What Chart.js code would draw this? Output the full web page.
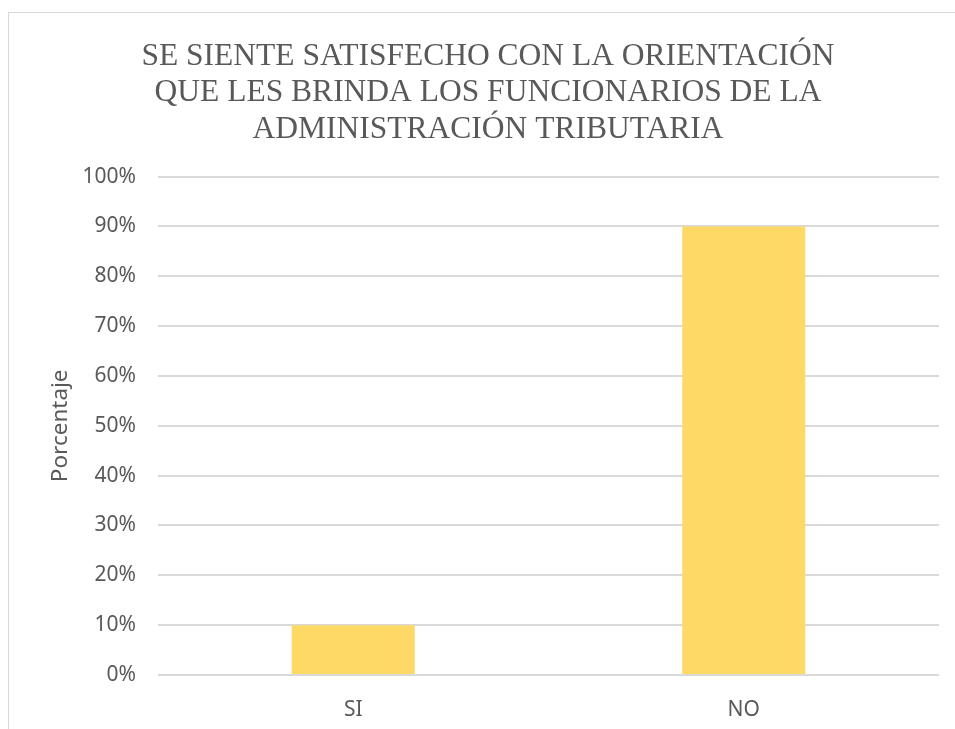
<!DOCTYPE html>
<html>
<head>
<meta charset="utf-8">
<script src="https://cdn.jsdelivr.net/npm/chart.js@4.4.1/dist/chart.umd.min.js"></script>
<style>
  html, body { margin: 0; padding: 0; background: #fff; overflow: hidden; }
  .frame { position: absolute; left: 8px; top: 12px; width: 980px; height: 740px; border: 1px solid #d9d9d9; }
  .wrap { position: absolute; left: 0; top: 0; width: 955px; height: 729px; }
</style>
</head>
<body>
<div class="frame"></div>
<div class="wrap"><canvas id="chart"></canvas></div>
<script>
// --- Data ---
const TITLE_LINES = [
  'SE SIENTE SATISFECHO CON LA ORIENTACIÓN',
  'QUE LES BRINDA LOS FUNCIONARIOS DE LA',
  'ADMINISTRACIÓN TRIBUTARIA'
];
const CATEGORIES = ['SI', 'NO'];
const VALUES = [10, 90];        // percent
const Y_TITLE = 'Porcentaje';

const GRAY_TEXT = '#595959';
const SANS = "'Noto Sans', 'Open Sans', sans-serif";

// --- Chart ---
const ctx = document.getElementById('chart').getContext('2d');
new Chart(ctx, {
  type: 'bar',
  data: {
    labels: CATEGORIES,
    datasets: [{
      data: VALUES,
      backgroundColor: '#FFD966',
      borderWidth: 0,
      categoryPercentage: 0.63,
      barPercentage: 0.5
    }]
  },
  options: {
    responsive: true,
    maintainAspectRatio: false,
    animation: false,
    layout: { padding: { left: 37, right: 16, top: 38, bottom: 0 } },
    plugins: {
      legend: { display: false },
      tooltip: { enabled: false },
      title: {
        display: true,
        text: TITLE_LINES,
        color: GRAY_TEXT,
        font: { family: "'Liberation Serif', 'Times New Roman', serif", size: 31.5, weight: 'normal', lineHeight: 1.16 },
        padding: { top: 0, bottom: 29 }
      }
    },
    scales: {
      x: {
        afterFit: s => { s.height = 54; },
        grid: { display: false, drawTicks: false },
        border: { display: false },
        ticks: { color: GRAY_TEXT, font: { family: SANS, size: 21 }, padding: 22 }
      },
      y: {
        min: 0,
        max: 100,
        afterFit: s => { s.width = 121; },
        grid: { color: '#d9d9d9', lineWidth: 2, drawTicks: false },
        border: { display: false },
        ticks: { stepSize: 10, color: GRAY_TEXT, font: { family: SANS, size: 21 }, padding: 22, callback: v => v + '%' },
        title: { display: true, text: Y_TITLE, color: GRAY_TEXT, font: { family: SANS, size: 22.5 }, padding: { top: 10, bottom: 0 } }
      }
    }
  }
});
</script>
</body>
</html>
